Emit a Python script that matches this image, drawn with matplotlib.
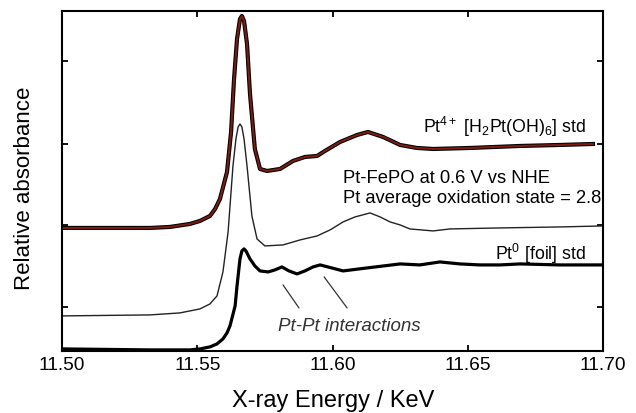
import matplotlib.pyplot as plt

plt.rcParams['font.family'] = ['Liberation Sans', 'DejaVu Sans']
plt.rcParams['mathtext.fontset'] = 'custom'
plt.rcParams['mathtext.rm'] = 'Liberation Sans'
plt.rcParams['mathtext.it'] = 'Liberation Sans:italic'

# Pt4+ [H2Pt(OH)6] standard
e_pt4 = [11.5000, 11.5325, 11.5399, 11.5473, 11.5510, 11.5547, 11.5566, 11.5584,
         11.5610, 11.5625, 11.5636, 11.5647, 11.5658, 11.5665, 11.5673, 11.5684,
         11.5695, 11.5713, 11.5732, 11.5758, 11.5806, 11.5854, 11.5898, 11.5943,
         11.5972, 11.6028, 11.6091, 11.6131, 11.6187, 11.6250, 11.6312, 11.6372,
         11.6508, 11.6693, 11.6841, 11.6963]
a_pt4 = [1.23, 1.23, 1.24, 1.27, 1.30, 1.35, 1.42, 1.52,
         1.79, 2.19, 2.72, 3.12, 3.32, 3.35, 3.30, 3.07,
         2.57, 2.02, 1.82, 1.80, 1.82, 1.90, 1.94, 1.95,
         2.00, 2.09, 2.16, 2.19, 2.14, 2.06, 2.03, 2.02,
         2.03, 2.05, 2.06, 2.07]

# Pt-FePO at 0.6 V
e_fepo = [11.5000, 11.5325, 11.5436, 11.5510, 11.5547, 11.5573, 11.5595, 11.5614,
          11.5632, 11.5643, 11.5651, 11.5658, 11.5665, 11.5673, 11.5684, 11.5702,
          11.5721, 11.5750, 11.5817, 11.5880, 11.5943, 11.5991, 11.6039, 11.6083,
          11.6139, 11.6176, 11.6213, 11.6250, 11.6286, 11.6372, 11.6434, 11.6619,
          11.6841, 11.7000]
a_fepo = [0.35, 0.36, 0.38, 0.42, 0.47, 0.55, 0.79, 1.19,
          1.85, 2.12, 2.24, 2.27, 2.24, 2.12, 1.85, 1.35,
          1.12, 1.05, 1.06, 1.11, 1.15, 1.21, 1.29, 1.34,
          1.38, 1.34, 1.29, 1.26, 1.22, 1.20, 1.22, 1.23,
          1.24, 1.25]

# Pt0 foil standard
e_pt0 = [11.5000, 11.5325, 11.5473, 11.5510, 11.5547, 11.5573, 11.5595, 11.5610,
         11.5621, 11.5640, 11.5647, 11.5658, 11.5665, 11.5673, 11.5680, 11.5695,
         11.5713, 11.5732, 11.5762, 11.5787, 11.5813, 11.5839, 11.5869, 11.5898,
         11.5928, 11.5954, 11.5983, 11.6039, 11.6128, 11.6250, 11.6323, 11.6397,
         11.6471, 11.6545, 11.6619, 11.6693, 11.6841, 11.7000]
a_pt0 = [0.02, 0.01, 0.01, 0.02, 0.04, 0.07, 0.12, 0.18,
         0.25, 0.45, 0.65, 0.92, 1.00, 1.02, 1.00, 0.92,
         0.85, 0.80, 0.79, 0.81, 0.84, 0.80, 0.77, 0.80,
         0.84, 0.86, 0.84, 0.80, 0.83, 0.87, 0.86, 0.89,
         0.87, 0.86, 0.86, 0.87, 0.86, 0.86]

x_ticks = [11.50, 11.55, 11.60, 11.65, 11.70]
x_ticklabels = ["11.50", "11.55", "11.60", "11.65", "11.70"]
y_ticks = [0.44, 1.26, 2.07, 2.90]

# pointer lines for Pt-Pt interactions (start, end)
pointer1 = [(11.5817, 0.66), (11.5876, 0.43)]
pointer2 = [(11.5969, 0.74), (11.6054, 0.43)]

fig = plt.figure(figsize=(6.36, 4.14), dpi=100)
ax = fig.add_axes([0.0975, 0.150, 0.8506, 0.821])

ax.plot(e_pt4, a_pt4, color="black", lw=3.0, solid_joinstyle="round")
ax.plot(e_pt4, a_pt4, color="#7a1c12", lw=1.5, solid_joinstyle="round")
ax.plot(e_fepo, a_fepo, color="#222222", lw=1.0, solid_joinstyle="round")
ax.plot(e_pt0, a_pt0, color="black", lw=2.3, solid_joinstyle="round")

for p in (pointer1, pointer2):
    ax.annotate("", xy=p[1], xytext=p[0],
                arrowprops=dict(arrowstyle="-", color="#333333", lw=0.9,
                                shrinkA=0, shrinkB=0))

ax.text(11.6937, 2.25, r"Pt$^{\mathrm{4+}}$ [H$_{\mathrm{2}}$Pt(OH)$_{\mathrm{6}}$] std",
        ha="right", va="center", fontsize=12.8)
ax.text(11.6039, 1.73, "Pt-FePO at 0.6 V vs NHE", ha="left", va="center", fontsize=13.2)
ax.text(11.6039, 1.53, "Pt average oxidation state = 2.8", ha="left", va="center", fontsize=13.2)
ax.text(11.6937, 0.98, r"Pt$^{\mathrm{0}}$ [foil] std", ha="right", va="center", fontsize=12.8)
ax.text(11.5799, 0.25, "Pt-Pt interactions", ha="left", va="center",
        fontsize=13.5, style="italic", color="#333333")

ax.set_xlim(11.50, 11.70)
ax.set_ylim(0, 3.40)
ax.set_xticks(x_ticks)
ax.set_xticklabels(x_ticklabels)
ax.set_yticks(y_ticks)
ax.set_yticklabels([])
ax.tick_params(direction="in", length=4, width=1.3, top=True, right=True,
               labelsize=13.8, pad=4)
for s in ax.spines.values():
    s.set_linewidth(1.5)

ax.set_xlabel("X-ray Energy / KeV", fontsize=17)
ax.set_ylabel("Relative absorbance", fontsize=16)
ax.xaxis.set_label_coords(0.501, -0.112)
ax.yaxis.set_label_coords(-0.05, 0.48)

fig.savefig("out.png", dpi=100)
